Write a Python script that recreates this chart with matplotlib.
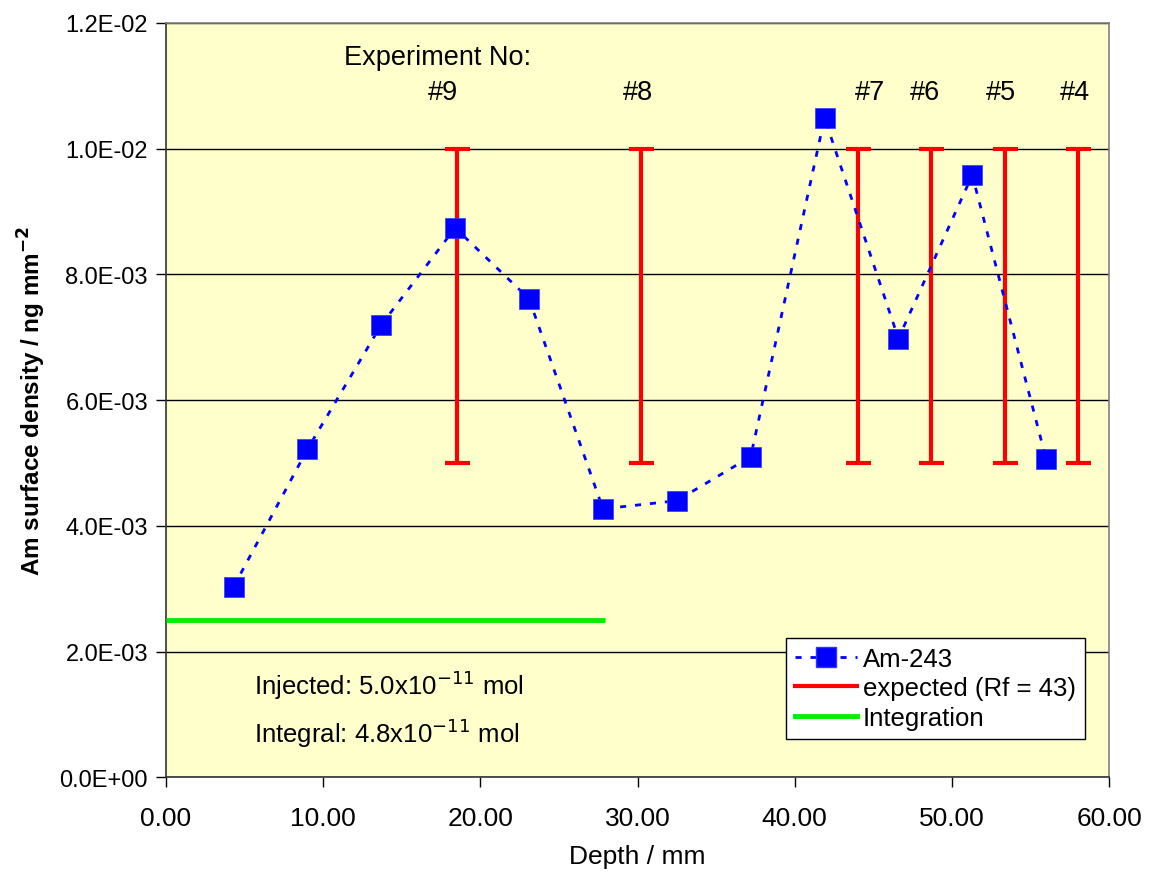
import numpy as np
import matplotlib.pyplot as plt
from matplotlib.lines import Line2D

plt.rcParams['font.family'] = ['Liberation Sans', 'DejaVu Sans']

# measured Am-243 profile
depth = [4.3, 9.0, 13.7, 18.4, 23.1, 27.8, 32.5, 37.2, 41.9, 46.6, 51.3, 56.0]
density = [3.03e-3, 5.22e-3, 7.20e-3, 8.74e-3, 7.61e-3, 4.27e-3,
           4.40e-3, 5.10e-3, 10.49e-3, 6.98e-3, 9.58e-3, 5.06e-3]

# expected ranges (Rf = 43) per experiment
exp_depth = [18.5, 30.2, 44.0, 48.7, 53.4, 58.0]
exp_low = [5.0e-3] * 6
exp_high = [1.0e-2] * 6
exp_labels = ['#9', '#8', '#7', '#6', '#5', '#4']
exp_label_x = [17.6, 30.0, 44.8, 48.3, 53.1, 57.8]

# integration line
integ_x = [0.0, 27.9]
integ_y = [2.5e-3, 2.5e-3]

fig = plt.figure(figsize=(11.49, 8.78), dpi=100)
ax = fig.add_axes([0.1445, 0.1136, 0.8207, 0.8591])
ax.set_facecolor('#FFFFCC')

low = np.array(exp_low)
high = np.array(exp_high)
ax.errorbar(exp_depth, low, yerr=[np.zeros_like(low), high - low], fmt='none',
            ecolor='#FF0000', elinewidth=3, capsize=9, capthick=3, zorder=3)

ax.plot(integ_x, integ_y, color='#00EE00', lw=3.5, solid_capstyle='butt', zorder=3)

ax.plot(depth, density, color='#0000FF', ls=(0, (2.2, 3.2)), lw=2,
        marker='s', markersize=15, markerfacecolor='#0000FF',
        markeredgecolor='#3333FF', markeredgewidth=0.5, zorder=4)

ax.set_xlim(0, 60)
ax.set_ylim(0, 0.012)
ax.set_xticks(np.arange(0, 61, 10))
ax.set_xticklabels(['%.2f' % v for v in np.arange(0, 61, 10)])
yt = np.arange(0, 0.0121, 0.002)
ax.set_yticks(yt)
ax.set_yticklabels(['0.0E+00', '2.0E-03', '4.0E-03', '6.0E-03', '8.0E-03', '1.0E-02', '1.2E-02'])
ax.tick_params(direction='out', length=7, width=1)
ax.tick_params(axis='x', labelsize=19, pad=14)
ax.tick_params(axis='y', labelsize=17, pad=6)
ax.yaxis.grid(True, color='black', lw=1)
ax.set_axisbelow(True)

for s in ['left', 'bottom']:
    ax.spines[s].set_color('#333333')
    ax.spines[s].set_linewidth(1.2)
for s in ['top', 'right']:
    ax.spines[s].set_color('#808080')
    ax.spines[s].set_linewidth(1.2)

ax.set_xlabel('Depth / mm', fontsize=19, labelpad=10)
ax.set_ylabel('Am surface density / ng mm$^{\\mathbf{-2}}$', fontsize=17.5,
              fontweight='bold', labelpad=8)

ax.text(17.3, 11.46e-3, 'Experiment No:', fontsize=19.5, ha='center', va='center')
for lx, lab in zip(exp_label_x, exp_labels):
    ax.text(lx, 10.9e-3, lab, fontsize=19.5, ha='center', va='center')

ax.text(5.6, 1.48e-3, 'Injected: 5.0x10$^{-11}$ mol', fontsize=18.5, va='center')
ax.text(5.6, 0.72e-3, 'Integral: 4.8x10$^{-11}$ mol', fontsize=18.5, va='center')

handles = [
    Line2D([], [], color='#0000FF', ls=(0, (2.2, 3.2)), lw=2, marker='s',
           markersize=15, markeredgecolor='#3333FF'),
    Line2D([], [], color='#FF0000', lw=3),
    Line2D([], [], color='#00EE00', lw=3.5),
]
leg = ax.legend(handles, ['Am-243', 'expected (Rf = 43)', 'Integration'],
                loc='lower right', bbox_to_anchor=(0.9745, 0.0508),
                fontsize=18.5, frameon=True, fancybox=False, shadow=False,
                framealpha=1, edgecolor='black', handlelength=2.4,
                borderpad=0.35, labelspacing=0.22, handletextpad=0.25,
                borderaxespad=0)
leg.get_frame().set_linewidth(1)

fig.savefig('out.png', dpi=100)
